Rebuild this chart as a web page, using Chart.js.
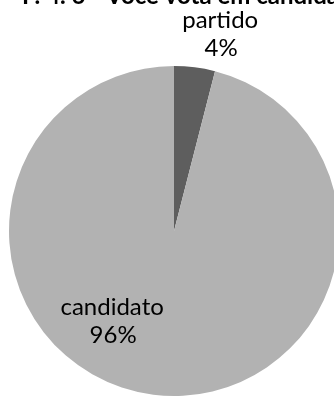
<!DOCTYPE html>
<html>
<head>
<meta charset="utf-8">
<script src="https://cdn.jsdelivr.net/npm/chart.js@4/dist/chart.umd.min.js"></script>
<style>
  html, body { margin: 0; padding: 0; background: #fff; overflow: hidden; }
  #wrap { position: absolute; left: 0; top: 0; width: 350px; height: 398px; }
</style>
</head>
<body>
<div id="wrap"><canvas id="pieChart"></canvas></div>
<script>
const titleText = 'P. 4. 6 - Você vota em candidato ou partido?';
const categories = ['partido', 'candidato'];
const shares = [4, 96];
const sliceColors = ['#5e5e5e', '#b2b2b2'];

// where each label's first baseline sits, as offsets from the pie centre (fraction of radius)
const labelSpots = [
    { dx: 0.28, dy: -1.23 },
    { dx: -0.375, dy: 0.51 }
];

const labelPlugin = {
    id: 'sliceLabels',
    afterDatasetsDraw(chart) {
        const ctx = chart.ctx;
        const arcs = chart.getDatasetMeta(0).data;
        ctx.save();
        ctx.fillStyle = '#000';
        ctx.font = '24px Lato, "Open Sans", sans-serif';
        ctx.textAlign = 'center';
        ctx.textBaseline = 'alphabetic';
        arcs.forEach((arc, i) => {
            const r = arc.outerRadius;
            const x = arc.x + labelSpots[i].dx * r;
            const y = arc.y + labelSpots[i].dy * r;
            ctx.fillText(categories[i], x, y);
            ctx.fillText(shares[i] + '%', x + 1, y + 28);
        });
        // title runs off the top of the picture
        ctx.font = 'bold 24px Lato, "Open Sans", sans-serif';
        ctx.textAlign = 'left';
        ctx.fillText(titleText, 22, 4);
        ctx.restore();
    }
};

new Chart(document.getElementById('pieChart').getContext('2d'), {
    type: 'pie',
    data: {
        labels: categories,
        datasets: [{
            data: shares,
            backgroundColor: sliceColors,
            borderWidth: 0
        }]
    },
    options: {
        responsive: true,
        maintainAspectRatio: false,
        animation: false,
        layout: { padding: { left: 9, right: 11, top: 66, bottom: 2 } },
        plugins: {
            legend: { display: false },
            tooltip: { enabled: false }
        }
    },
    plugins: [labelPlugin]
});
</script>
</body>
</html>
